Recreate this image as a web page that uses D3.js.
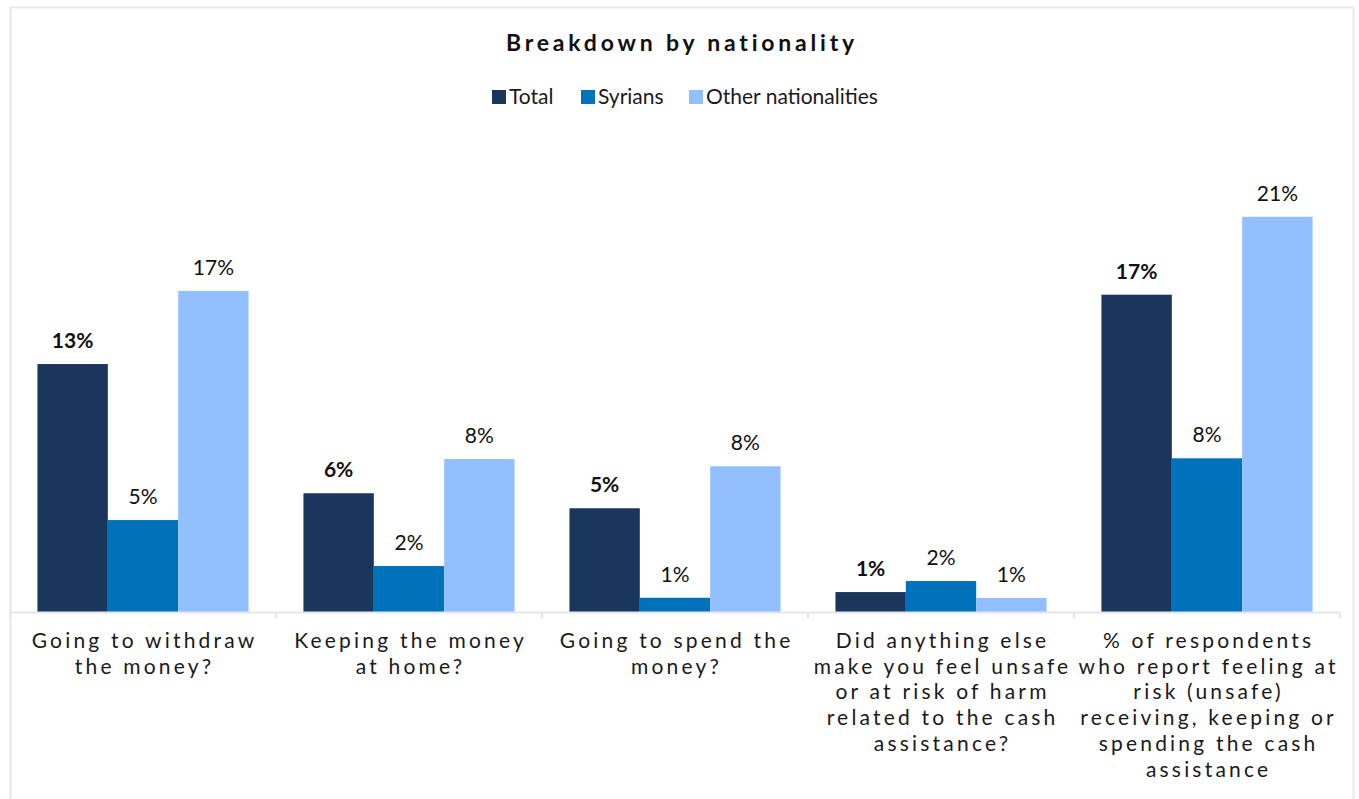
<!DOCTYPE html>
<html>
<head>
<meta charset="utf-8">
<script src="https://cdn.jsdelivr.net/npm/d3@7"></script>
<style>
  html, body { margin: 0; padding: 0; background: #ffffff; }
  svg { display: block; font-family: Lato, "Open Sans", sans-serif; }
</style>
</head>
<body>
<svg id="chart" width="1359" height="799"></svg>
<script>
// Questions on the x axis (line breaks mark where each label wraps)
const categories = [
  "Going to withdraw\nthe money?",
  "Keeping the money\nat home?",
  "Going to spend the\nmoney?",
  "Did anything else\nmake you feel unsafe\nor at risk of harm\nrelated to the cash\nassistance?",
  "% of respondents\nwho report feeling at\nrisk (unsafe)\nreceiving, keeping or\nspending the cash\nassistance"
];

// Share of respondents (%) per group
const seriesNames = ["Total", "Syrians", "Other nationalities"];
const totalValues  = [13.05, 6.25, 5.46, 1.05, 16.7];
const syrianValues = [4.84, 2.42, 0.75, 1.63, 8.09];
const otherValues  = [16.9, 8.05, 7.67, 0.74, 20.8];
const seriesColors = ["#1b365d", "#0072bc", "#91bfff"];

const seriesValues = [totalValues, syrianValues, otherValues];

const svg = d3.select("#chart");

// Chart frame
svg.append("rect")
  .attr("x", 10.5).attr("y", 7.5)
  .attr("width", 1343).attr("height", 800)
  .attr("fill", "#ffffff")
  .attr("stroke", "#e6e8ec")
  .attr("stroke-width", 2);

const plot = { left: 10, right: 1340, top: 137, bottom: 612 };

const x0 = d3.scaleBand()
  .domain(d3.range(categories.length))
  .range([plot.left, plot.right])
  .paddingInner(0)
  .paddingOuter(0);

const x1 = d3.scaleBand()
  .domain(d3.range(seriesNames.length))
  .range([0, x0.bandwidth()])
  .paddingInner(0)
  .paddingOuter(0.39);

const y = d3.scaleLinear()
  .domain([0, 25])
  .range([plot.bottom, plot.top]);

// Title
svg.append("text")
  .attr("x", 682).attr("y", 51)
  .attr("text-anchor", "middle")
  .attr("font-size", 23)
  .attr("font-weight", "bold")
  .attr("letter-spacing", "3.8px")
  .attr("fill", "#111111")
  .text("Breakdown by nationality");

// Legend
const legendX = [492, 581, 689];
const legend = svg.append("g");
seriesNames.forEach((name, i) => {
  const g = legend.append("g").attr("transform", `translate(${legendX[i]},0)`);
  g.append("rect")
    .attr("x", 0).attr("y", 90)
    .attr("width", 14).attr("height", 14)
    .attr("fill", seriesColors[i]);
  g.append("text")
    .attr("x", 17).attr("y", 104)
    .attr("font-size", 21)
    .attr("fill", "#1a1a1a")
    .text(name);
});

// Bars
const groups = svg.append("g")
  .selectAll("g")
  .data(categories.map((c, i) => i))
  .join("g")
  .attr("transform", i => `translate(${x0(i)},0)`);

groups.selectAll("rect")
  .data(i => seriesValues.map((vals, s) => ({ s, v: vals[i] })))
  .join("rect")
  .attr("x", d => x1(d.s))
  .attr("y", d => y(d.v))
  .attr("width", x1.bandwidth())
  .attr("height", d => y(0) - y(d.v))
  .attr("fill", d => seriesColors[d.s]);

// Value labels
groups.selectAll("text.val")
  .data(i => seriesValues.map((vals, s) => ({ s, v: vals[i] })))
  .join("text")
  .attr("class", "val")
  .attr("x", d => x1(d.s) + x1.bandwidth() / 2)
  .attr("y", d => y(d.v) - 16)
  .attr("text-anchor", "middle")
  .attr("font-size", 21)
  .attr("font-weight", d => d.s === 0 ? "bold" : "normal")
  .attr("fill", "#111111")
  .text(d => d3.format(".0f")(d.v) + "%");

// X axis
const axis = svg.append("g")
  .attr("transform", `translate(0,${plot.bottom})`);
axis.append("line")
  .attr("x1", plot.left).attr("x2", plot.right)
  .attr("y1", 0.5).attr("y2", 0.5)
  .attr("stroke", "#e3e6ea").attr("stroke-width", 2);
axis.selectAll("line.tick")
  .data(d3.range(categories.length + 1))
  .join("line")
  .attr("class", "tick")
  .attr("x1", i => i < categories.length ? x0(i) : plot.right)
  .attr("x2", i => i < categories.length ? x0(i) : plot.right)
  .attr("y1", 0).attr("y2", 7)
  .attr("stroke", "#e3e6ea").attr("stroke-width", 2);

// Category labels
const catLabels = axis.selectAll("text.cat")
  .data(categories)
  .join("text")
  .attr("class", "cat")
  .attr("text-anchor", "middle")
  .attr("font-size", 21)
  .attr("letter-spacing", "3.2px")
  .attr("fill", "#1a1a1a");
catLabels.each(function(c, i) {
  const t = d3.select(this);
  c.split("\n").forEach((line, k) => {
    t.append("tspan")
      .attr("x", x0(i) + x0.bandwidth() / 2 + 1.6)
      .attr("y", 36 + k * 25.7)
      .text(line);
  });
});
</script>
</body>
</html>
